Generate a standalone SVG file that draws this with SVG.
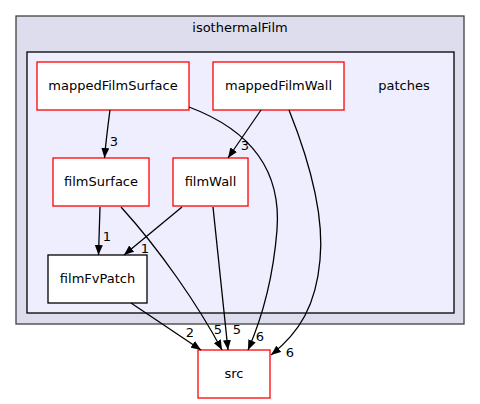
<svg xmlns="http://www.w3.org/2000/svg" width="480" height="404" viewBox="0 0 480 404">
<style>
text{font-family:"DejaVu Sans",sans-serif;font-size:13px;fill:#000;}
.n{fill:#fff;stroke-width:1.3;}
.r{stroke:#ff0000;}
.b{stroke:#000;}
.e{fill:none;stroke:#000;stroke-width:1.3;marker-end:url(#ah);}
.l{text-anchor:middle;}
</style>
<defs>
<marker id="ah" markerUnits="userSpaceOnUse" markerWidth="11" markerHeight="8" refX="10" refY="4" orient="auto">
<path d="M0,0 L10,4 L0,8 z" fill="#000"/>
</marker>
</defs>
<rect width="480" height="404" fill="#fff"/>
<g id="cluster_isothermalFilm">
<rect x="16" y="16" width="448" height="308" fill="#ddddee" stroke="#404040" stroke-width="1.3"/>
<text x="240" y="32" class="l">isothermalFilm</text>
</g>
<g id="cluster_patches">
<rect x="27" y="52" width="427" height="261" fill="#eeeeff" stroke="#000" stroke-width="1.3"/>
<text x="404" y="90" class="l">patches</text>
</g>
<g id="node_mappedFilmSurface">
<rect x="37" y="62" width="152" height="48" class="n r"/>
<text x="113" y="90" class="l">mappedFilmSurface</text>
</g>
<g id="node_mappedFilmWall">
<rect x="213" y="62" width="131" height="48" class="n r"/>
<text x="278.5" y="90" class="l">mappedFilmWall</text>
</g>
<g id="node_filmSurface">
<rect x="53" y="158" width="96" height="48" class="n r"/>
<text x="101" y="186" class="l">filmSurface</text>
</g>
<g id="node_filmWall">
<rect x="173" y="158" width="75" height="48" class="n r"/>
<text x="210.5" y="186" class="l">filmWall</text>
</g>
<g id="node_filmFvPatch">
<rect x="48" y="255" width="99" height="48" class="n b"/>
<text x="97.5" y="283" class="l">filmFvPatch</text>
</g>
<g id="node_src">
<rect x="198" y="350" width="72" height="48" class="n r"/>
<text x="234" y="378" class="l">src</text>
</g>
<g id="edges">
<path class="e" d="M110,110 C108,125 106,140 104.5,158"/>
<path class="e" d="M189,107 C245,128 282,165 277,230 C273,280 262,318 248,350"/>
<path class="e" d="M289,110 C305,150 325,210 320,260 C316,305 300,332 271,355"/>
<path class="e" d="M261,110 L228,158"/>
<path class="e" d="M100,207 L98.5,255"/>
<path class="e" d="M182,207 L124,255"/>
<path class="e" d="M121,207 C160,250 198,305 222,350"/>
<path class="e" d="M213,207 L228,350"/>
<path class="e" d="M131,303 L201,350"/>
<text x="114" y="146" class="l">3</text>
<text x="245" y="150" class="l">3</text>
<text x="107" y="241" class="l">1</text>
<text x="145" y="253" class="l">1</text>
<text x="190" y="337" class="l">2</text>
<text x="218" y="334" class="l">5</text>
<text x="237" y="334" class="l">5</text>
<text x="260" y="341" class="l">6</text>
<text x="290" y="357" class="l">6</text>
</g>
</svg>
